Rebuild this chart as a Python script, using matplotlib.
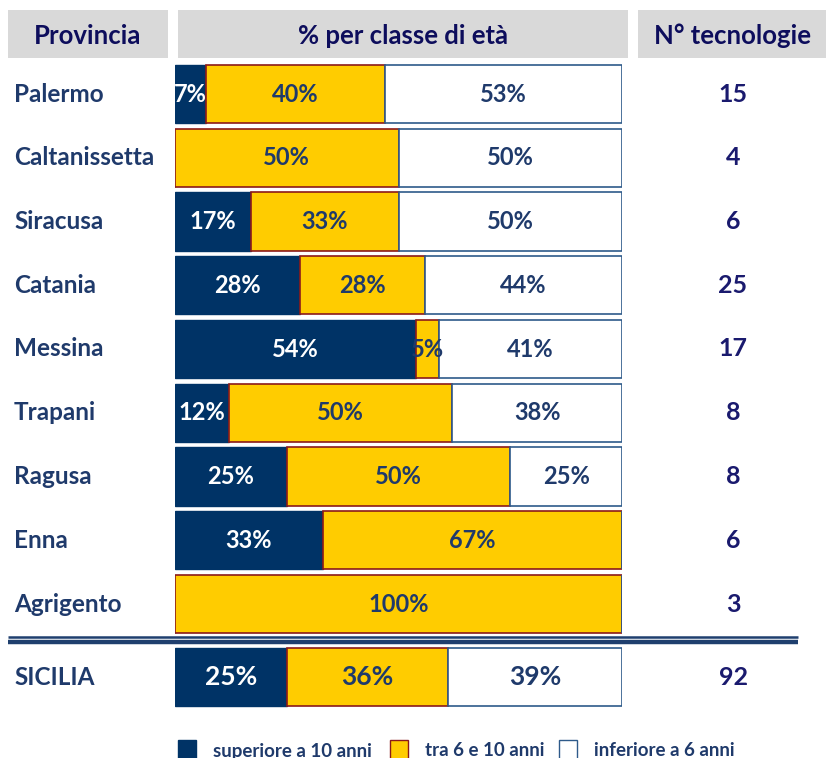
import numpy as np
import matplotlib
matplotlib.use("Agg")
import matplotlib.pyplot as plt
from matplotlib.patches import Rectangle

plt.rcParams['font.family'] = ['Lato', 'DejaVu Sans']
plt.rcParams['font.weight'] = 'bold'

# data
province = ["Palermo", "Caltanissetta", "Siracusa", "Catania", "Messina",
            "Trapani", "Ragusa", "Enna", "Agrigento", "SICILIA"]
over_10 = [7, 0, 17, 28, 54, 12, 25, 33, 0, 25]
from_6_to_10 = [40, 50, 33, 28, 5, 50, 50, 67, 100, 36]
under_6 = [53, 50, 50, 44, 41, 38, 25, 0, 0, 39]
n_tecnologie = [15, 4, 6, 25, 17, 8, 8, 6, 3, 92]
legend_labels = ["superiore a 10 anni", "tra 6 e 10 anni", "inferiore a 6 anni"]

navy = "#003366"
yellow = "#FFCC00"
darkred = "#8B1A1A"
txt_navy = "#1F3A6B"
num_navy = "#1A1A6E"

W, H = 826, 758
fig = plt.figure(figsize=(W / 100, H / 100), dpi=100)

# background axes in pixel units
bg = fig.add_axes([0, 0, 1, 1])
bg.set_xlim(0, W)
bg.set_ylim(H, 0)
bg.axis("off")

# row positions (SICILIA a bit further down, below the double line)
pos = np.arange(len(province), dtype=float)
pos[-1] += 0.15
row0, step = 94, 63.75

def ypx(p):
    return row0 + step * p

# header boxes
for x0, x1, label in [(8, 168, "Provincia"), (178, 628, "% per classe di età"),
                      (638, 826, "N° tecnologie")]:
    bg.add_patch(Rectangle((x0, 10), x1 - x0, 48, color="#D9D9D9", lw=0))
    bg.text((x0 + x1) / 2, 36, label, ha="center", va="center",
            fontsize=18.5, color="#0D0D5C", fontweight="bold")

# double separator line
bg.plot([8, 798], [636.5, 636.5], color="#1F3F6E", lw=1.8, solid_capstyle="butt")
bg.plot([8, 798], [641.5, 641.5], color="#1F3F6E", lw=3.2, solid_capstyle="butt")

# province names and counts
for p, name, n in zip(pos, province, n_tecnologie):
    bg.text(14, ypx(p), name, ha="left", va="center", fontsize=17.5,
            color=txt_navy, fontweight="bold")
    bg.text(733, ypx(p), str(n), ha="center", va="center", fontsize=18,
            color=num_navy, fontweight="bold")

# bar axes: x in percent, y in row index
ax = fig.add_axes([175 / W, 0, (622 - 175) / W, 1])
ax.set_xlim(0, 100)
ax.set_ylim((H - row0) / step, -row0 / step)
ax.axis("off")
ax.patch.set_alpha(0)

h = 0.91
a = np.array(over_10)
b = np.array(from_6_to_10)
c = np.array(under_6)
ax.barh(pos, a, height=h, color=navy, edgecolor=navy, lw=1)
ax.barh(pos, b, left=a, height=h, color=yellow, edgecolor=darkred, lw=1.2)
ax.barh(pos, c, left=a + b, height=h, color="white", edgecolor="#2E5A8A", lw=1.2)

for i, p in enumerate(pos):
    fs = 19 if i == len(pos) - 1 else 17
    for val, left, col in [(a[i], 0, "white"), (b[i], a[i], txt_navy),
                           (c[i], a[i] + b[i], txt_navy)]:
        if val > 0:
            ax.text(left + val / 2, p, f"{val}%", ha="center", va="center",
                    fontsize=fs, color=col, fontweight="bold", clip_on=False)

# legend
sq = [(178, navy, navy), (390, yellow, darkred), (559, "white", "#2E5A8A")]
for (x0, fc, ec), label in zip(sq, legend_labels):
    bg.add_patch(Rectangle((x0, 740), 18, 20, facecolor=fc, edgecolor=ec, lw=1))
    bg.text(x0 + 35, 751, label, ha="left", va="center", fontsize=13.5,
            color=txt_navy, fontweight="bold")

fig.savefig("out.png", dpi=100)
